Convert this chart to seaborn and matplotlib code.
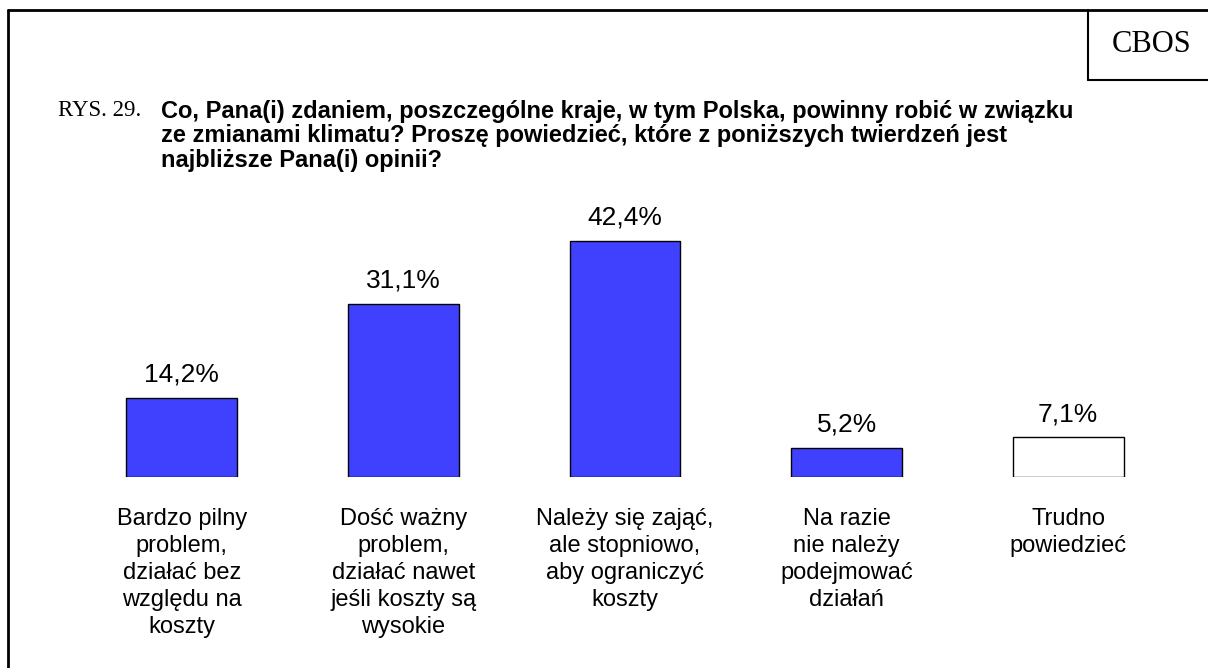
import matplotlib
matplotlib.use("Agg")
import matplotlib.pyplot as plt
import seaborn as sns
from matplotlib.lines import Line2D

sns.set_theme(style="white")
plt.rcParams["font.family"] = ["Liberation Sans", "DejaVu Sans"]
plt.rcParams["text.color"] = "black"
plt.rcParams["xtick.color"] = "black"

categories = [
    "Bardzo pilny\nproblem,\ndziałać bez\nwzględu na\nkoszty",
    "Dość ważny\nproblem,\ndziałać nawet\njeśli koszty są\nwysokie",
    "Należy się zająć,\nale stopniowo,\naby ograniczyć\nkoszty",
    "Na razie\nnie należy\npodejmować\ndziałań",
    "Trudno\npowiedzieć",
]
values = [14.2, 31.1, 42.4, 5.2, 7.1]
value_labels = ["14,2%", "31,1%", "42,4%", "5,2%", "7,1%"]
bar_colors = ["#4040FF", "#4040FF", "#4040FF", "#4040FF", "#FFFFFF"]

fig = plt.figure(figsize=(12.08, 6.68), dpi=100)
# axes: x 71..1179 px, baseline at y=477 px
ax = fig.add_axes([71 / 1208, (668 - 477) / 668, 1108 / 1208, 278.3 / 668])

sns.barplot(x=categories, y=values, hue=categories, palette=bar_colors,
            saturation=1, legend=False, width=0.5, edgecolor="black",
            linewidth=1.0, ax=ax)

ax.set_ylim(0, 50)
ax.set_xlim(-0.5, 4.5)
for spine in ax.spines.values():
    spine.set_visible(False)
ax.set_yticks([])
ax.set_xlabel("")
ax.set_ylabel("")
ax.tick_params(axis="x", length=0, pad=22, labelsize=17, labelcolor="black")
for lbl in ax.get_xticklabels():
    lbl.set_linespacing(1.3)
    lbl.set_verticalalignment("top")

for i, (v, t) in enumerate(zip(values, value_labels)):
    ax.text(i, v + 2.0, t, ha="center", va="bottom", fontsize=19, color="black")

# frame lines
fig.add_artist(Line2D([8 / 1208, 8 / 1208], [0, 1 - 10 / 668], color="black", lw=2))
fig.add_artist(Line2D([8 / 1208, 1], [1 - 10 / 668, 1 - 10 / 668], color="black", lw=2))
fig.add_artist(Line2D([1088 / 1208, 1088 / 1208], [1 - 10 / 668, 1 - 80 / 668], color="black", lw=1.5))
fig.add_artist(Line2D([1088 / 1208, 1], [1 - 80 / 668, 1 - 80 / 668], color="black", lw=1.5))
fig.text(1152 / 1208, 1 - 45 / 668, "CBOS", ha="center", va="center", fontsize=22,
         family=["Liberation Serif", "DejaVu Serif"])

fig.text(58 / 1208, 1 - 110 / 668, "RYS. 29.", ha="left", va="center", fontsize=16.5,
         family=["Liberation Serif", "DejaVu Serif"])
fig.text(161 / 1208, 1 - 100 / 668,
         "Co, Pana(i) zdaniem, poszczególne kraje, w tym Polska, powinny robić w związku\n"
         "ze zmianami klimatu? Proszę powiedzieć, które z poniższych twierdzeń jest\n"
         "najbliższe Pana(i) opinii?",
         ha="left", va="top", fontsize=17, fontweight="bold", linespacing=1.08)

fig.savefig("out.png", dpi=100)
